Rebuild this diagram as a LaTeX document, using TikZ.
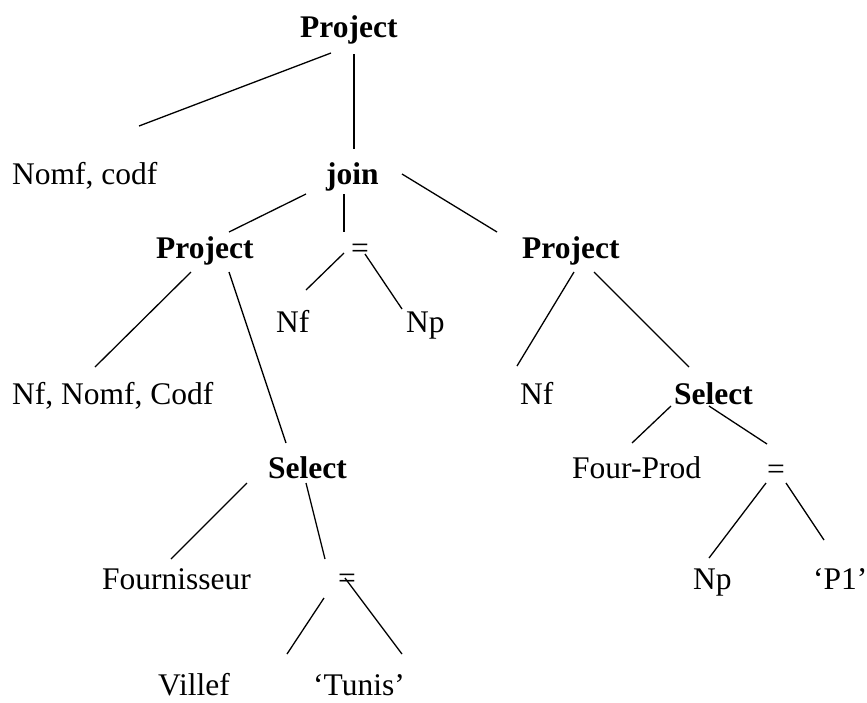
\documentclass[tikz,border=0pt]{standalone}
\usepackage{fontspec}
\setmainfont{Liberation Serif}
\begin{document}
\begin{tikzpicture}[x=1pt,y=-1pt,
  lbl/.style={anchor=base west,inner sep=0pt,font=\fontsize{31.5}{36}\selectfont},
  op/.style={lbl,font=\fontsize{31.5}{36}\selectfont\bfseries},
  edge/.style={line width=1.3pt}]
\useasboundingbox (0,0) rectangle (867,702);
% nodes
\node[op]  (p0) at (300,37) {Project};
\node[lbl] (nc) at (12,184) {Nomf, codf};
\node[op]  (jn) at (326,184) {join};
\node[op]  (p1) at (156,258) {Project};
\node[lbl] (eq1) at (351,258) {=};
\node[op]  (p2) at (522,258) {Project};
\node[lbl] (nf1) at (276,332) {Nf};
\node[lbl] (np1) at (406,332) {Np};
\node[lbl] (nnc) at (12,404) {Nf, Nomf, Codf};
\node[lbl] (nf2) at (520,404) {Nf};
\node[op]  (s2) at (674,404) {Select};
\node[op]  (s1) at (268,478) {Select};
\node[lbl] (fp) at (572,478) {Four-Prod};
\node[lbl] (eq3) at (767,479) {=};
\node[lbl] (fr) at (102,589) {Fournisseur};
\node[lbl] (eq2) at (338,588) {=};
\node[lbl] (np2) at (693,589) {Np};
\node[lbl] (p1q) at (813,589) {`P1'};
\node[lbl] (vf) at (158,695) {Villef};
\node[lbl] (tn) at (313,695) {`Tunis'};
% line end points
\coordinate (a1) at (331,53);  \coordinate (a2) at (139,126);
\coordinate (b1) at (354,54);  \coordinate (b2) at (354,149);
\coordinate (c1) at (306,194); \coordinate (c2) at (229,232);
\coordinate (d1) at (344,194); \coordinate (d2) at (344,232);
\coordinate (e1) at (402,174); \coordinate (e2) at (497,232);
\coordinate (f1) at (344,253); \coordinate (f2) at (306,290);
\coordinate (g1) at (365,254); \coordinate (g2) at (402,309);
\coordinate (h1) at (191,272); \coordinate (h2) at (95,367);
\coordinate (i1) at (229,272); \coordinate (i2) at (286,443);
\coordinate (j1) at (574,272); \coordinate (j2) at (517,366);
\coordinate (k1) at (594,272); \coordinate (k2) at (689,367);
\coordinate (l1) at (671,406); \coordinate (l2) at (632,443);
\coordinate (m1) at (709,406); \coordinate (m2) at (767,444);
\coordinate (n1) at (766,483); \coordinate (n2) at (709,558);
\coordinate (o1) at (786,483); \coordinate (o2) at (824,540);
\coordinate (q1) at (247,483); \coordinate (q2) at (171,559);
\coordinate (r1) at (306,483); \coordinate (r2) at (325,559);
\coordinate (t1) at (324,598); \coordinate (t2) at (287,654);
\coordinate (u1) at (345,578); \coordinate (u2) at (402,654);
% connectors
\foreach \s in {a,b,c,d,e,f,g,h,i,j,k,l,m,n,o,q,r,t,u}
  \draw[edge] (\s1) -- (\s2);
\end{tikzpicture}
\end{document}
